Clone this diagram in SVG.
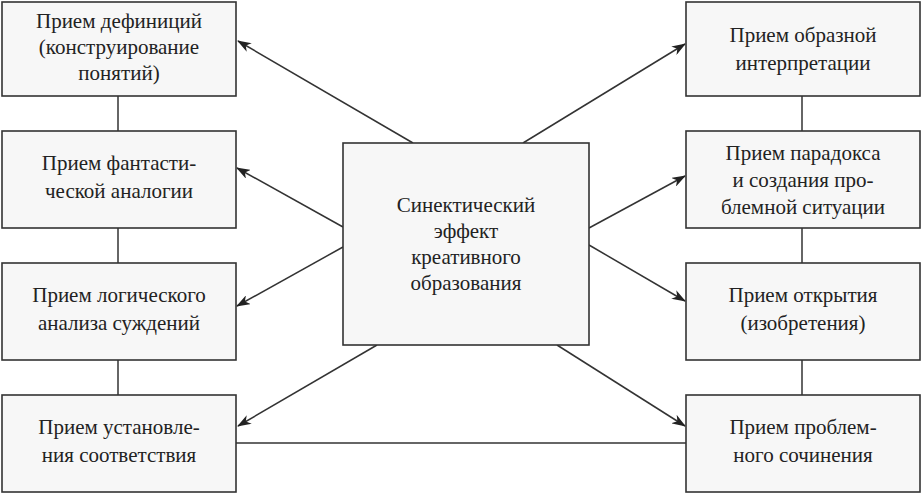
<svg xmlns="http://www.w3.org/2000/svg" width="924" height="496" viewBox="0 0 924 496">
<style>
rect{fill:#f7f7f7;stroke:#333;stroke-width:1.6}
text{font-family:"Liberation Serif","Times New Roman","DejaVu Serif",serif;font-size:21px;fill:#222;text-anchor:middle}
.c line{stroke:#333;stroke-width:1.5}
.a{marker-end:url(#ah)}
</style>
<defs><marker id="ah" markerWidth="14" markerHeight="10" refX="13" refY="5" orient="auto" markerUnits="userSpaceOnUse"><path d="M0,0 L14,5 L0,10 L4,5 Z" fill="#222"/></marker></defs>
<rect x="0" y="0" width="924" height="496" style="fill:#fff;stroke:none"/>
<g class="c">
<line x1="118" y1="96" x2="118" y2="131"/><line x1="118" y1="228" x2="118" y2="263"/><line x1="118" y1="360" x2="118" y2="395"/>
<line x1="802" y1="96" x2="802" y2="131"/><line x1="802" y1="228" x2="802" y2="263"/><line x1="802" y1="360" x2="802" y2="395"/>
<line x1="236" y1="443" x2="686" y2="443"/>
<line class="a" x1="413" y1="143" x2="238" y2="41"/>
<line class="a" x1="343" y1="227" x2="237" y2="168"/>
<line class="a" x1="343" y1="247" x2="237" y2="306"/>
<line class="a" x1="377" y1="345" x2="238" y2="426"/>
<line class="a" x1="523" y1="143" x2="685" y2="44"/>
<line class="a" x1="589" y1="228" x2="685" y2="176"/>
<line class="a" x1="589" y1="245" x2="685" y2="301"/>
<line class="a" x1="557" y1="345" x2="685" y2="426"/>
</g>
<g id="center"><rect x="343" y="143" width="246" height="202"/>
<text x="466" y="212">Синектический</text><text x="466" y="238">эффект</text><text x="466" y="264">креативного</text><text x="466" y="290">образования</text></g>
<g id="l1"><rect x="2" y="2" width="234" height="94"/><text x="119" y="28">Прием дефиниций</text><text x="119" y="54">(конструирование</text><text x="119" y="80">понятий)</text></g>
<g id="l2"><rect x="2" y="131" width="234" height="97"/><text x="119" y="170">Прием фантасти-</text><text x="119" y="198">ческой аналогии</text></g>
<g id="l3"><rect x="2" y="263" width="234" height="97"/><text x="119" y="302">Прием логического</text><text x="119" y="330">анализа суждений</text></g>
<g id="l4"><rect x="2" y="395" width="234" height="97"/><text x="119" y="434">Прием установле-</text><text x="119" y="462">ния соответствия</text></g>
<g id="r1"><rect x="686" y="2" width="234" height="94"/><text x="803" y="42">Прием образной</text><text x="803" y="70">интерпретации</text></g>
<g id="r2"><rect x="686" y="131" width="234" height="97"/><text x="803" y="160">Прием парадокса</text><text x="803" y="187">и создания про-</text><text x="803" y="214">блемной ситуации</text></g>
<g id="r3"><rect x="686" y="263" width="234" height="97"/><text x="803" y="302">Прием открытия</text><text x="803" y="330">(изобретения)</text></g>
<g id="r4"><rect x="686" y="395" width="234" height="97"/><text x="803" y="434">Прием проблем-</text><text x="803" y="462">ного сочинения</text></g>
</svg>
